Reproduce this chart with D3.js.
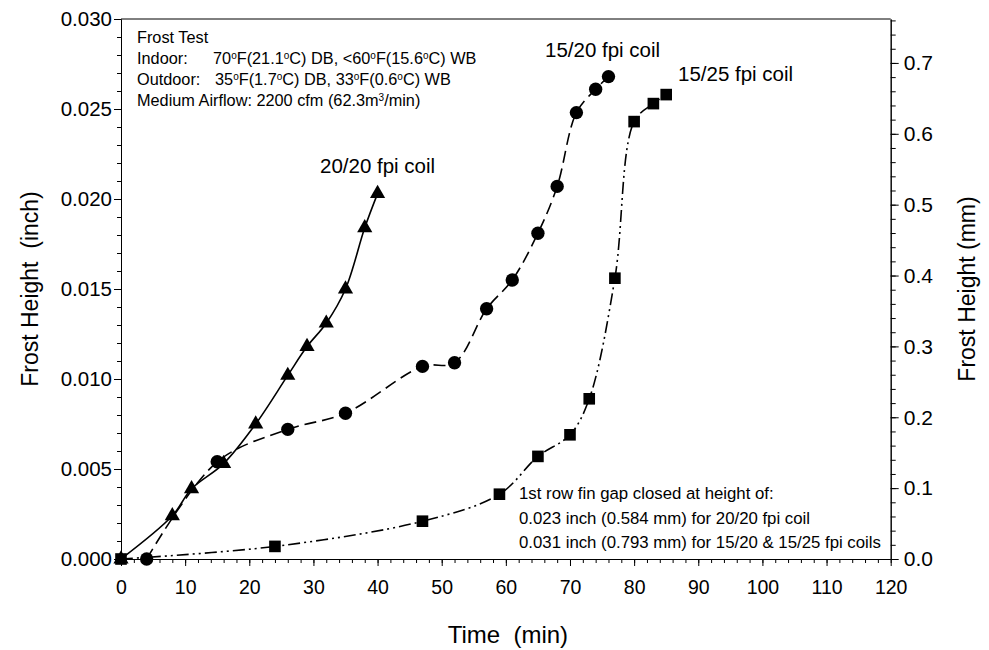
<!DOCTYPE html>
<html><head><meta charset="utf-8">
<script src="https://cdn.jsdelivr.net/npm/d3@7"></script>
<style>
html,body{margin:0;padding:0;background:#fff;}
svg{display:block;font-family:Arial,"Liberation Sans",sans-serif;}
</style></head>
<body><svg id="chart" width="989" height="650"></svg>
<script>
// ---- data ----
const time2020 = [0, 8, 11, 16, 21, 26, 29, 32, 35, 38, 40];
const frost2020 = [0, 0.0024, 0.0039, 0.0053, 0.0075, 0.0102, 0.0118, 0.0131, 0.0150, 0.0184, 0.0203];
const time1520 = [4, 15, 26, 35, 47, 52, 57, 61, 65, 68, 71, 74, 76];
const frost1520 = [0, 0.0054, 0.0072, 0.0081, 0.0107, 0.0109, 0.0139, 0.0155, 0.0181, 0.0207, 0.0248, 0.0261, 0.0268];
const time1525 = [0, 24, 47, 59, 65, 70, 73, 77, 80, 83, 85];
const frost1525 = [0, 0.0007, 0.0021, 0.0036, 0.0057, 0.0069, 0.0089, 0.0156, 0.0243, 0.0253, 0.0258];
const xTicks = [0, 10, 20, 30, 40, 50, 60, 70, 80, 90, 100, 110, 120];
const yTicks = [0, 0.005, 0.010, 0.015, 0.020, 0.025, 0.030];
const yRightTicks = [0, 0.1, 0.2, 0.3, 0.4, 0.5, 0.6, 0.7];
const seriesLabels = ["20/20 fpi coil", "15/20 fpi coil", "15/25 fpi coil"];

const svg = d3.select("#chart");
const L = 121, R = 890.7, T = 19, B = 559;
const x = d3.scaleLinear().domain([0, 120]).range([L, R]);
const y = d3.scaleLinear().domain([0, 0.030]).range([B, T]);
const yR = d3.scaleLinear().domain([0, 0.030 * 25.4]).range([B, T]);

// minor ticks
const xMinor = d3.range(0, 121, 2);
const yMinor = d3.range(0, 31, 1).map(d => d / 1000);
const yRMinor = d3.range(0, 39, 1).map(d => d * 0.02).filter(d => d <= 0.762);

function styleAxis(size) {
  return g => {
    g.selectAll("path,line").attr("stroke", "#000").attr("stroke-width", 1);
    g.selectAll("text").attr("fill", "#000").style("font-size", size + "px");
  };
}
svg.append("g").attr("transform", `translate(0,${B})`)
  .call(d3.axisBottom(x).tickValues(xMinor).tickSize(4).tickFormat("").tickSizeOuter(0)).call(styleAxis(19));
svg.append("g").attr("transform", `translate(0,${B})`)
  .call(d3.axisBottom(x).tickValues(xTicks).tickSize(7).tickPadding(14).tickFormat(d3.format("d")).tickSizeOuter(0)).call(styleAxis(19.5));
svg.append("g").attr("transform", `translate(${L},0)`)
  .call(d3.axisLeft(y).tickValues(yMinor).tickSize(4).tickFormat("").tickSizeOuter(0)).call(styleAxis(20));
svg.append("g").attr("transform", `translate(${L},0)`)
  .call(d3.axisLeft(y).tickValues(yTicks).tickSize(7).tickPadding(2).tickFormat(d3.format(".3f")).tickSizeOuter(0)).call(styleAxis(20.5));
svg.append("g").attr("transform", `translate(${R},0)`)
  .call(d3.axisRight(yR).tickValues(yRMinor).tickSize(5).tickFormat("").tickSizeOuter(0)).call(styleAxis(20));
svg.append("g").attr("transform", `translate(${R},0)`)
  .call(d3.axisRight(yR).tickValues(yRightTicks).tickSize(8).tickPadding(5).tickFormat(d3.format(".1f")).tickSizeOuter(0)).call(styleAxis(21));
// top frame
svg.append("line").attr("x1", L).attr("x2", R).attr("y1", T).attr("y2", T).attr("stroke", "#000");

// axis titles
svg.append("text").attr("transform", `translate(30,${(T + B) / 2}) rotate(-90)`)
  .attr("text-anchor", "middle").attr("dy", "0.35em").style("font-size", "23px").style("white-space", "pre")
  .text("Frost Height  (inch)");
svg.append("text").attr("transform", `translate(967,${(T + B) / 2}) rotate(-90)`)
  .attr("text-anchor", "middle").attr("dy", "0.35em").style("font-size", "23px")
  .text("Frost Height (mm)");
svg.append("text").attr("x", (L + R) / 2 + 2).attr("y", 643)
  .attr("text-anchor", "middle").style("font-size", "24px").style("white-space", "pre")
  .text("Time  (min)");

// lines
const line = d3.line().x(d => x(d[0])).y(d => y(d[1])).curve(d3.curveCatmullRom.alpha(0.5));
const s2020 = time2020.map((t, i) => [t, frost2020[i]]);
const s1520 = time1520.map((t, i) => [t, frost1520[i]]);
const s1525 = time1525.map((t, i) => [t, frost1525[i]]);
svg.append("path").datum(s2020).attr("d", line).attr("fill", "none").attr("stroke", "#000").attr("stroke-width", 1.6);
svg.append("path").datum(s1520).attr("d", line).attr("fill", "none").attr("stroke", "#000").attr("stroke-width", 1.6)
  .attr("stroke-dasharray", "12,6");
svg.append("path").datum(s1525).attr("d", line).attr("fill", "none").attr("stroke", "#000").attr("stroke-width", 1.6)
  .attr("stroke-dasharray", "12,4,2,4,2,4");

// markers
const tri = d3.symbol().type(d3.symbolTriangle).size(100);
const circ = d3.symbol().type(d3.symbolCircle).size(140);
const sq = d3.symbol().type(d3.symbolSquare).size(135);
svg.append("g").selectAll("path").data(s2020).join("path")
  .attr("d", tri).attr("transform", d => `translate(${x(d[0])},${y(d[1])})`).attr("fill", "#000");
svg.append("g").selectAll("path").data(s1520).join("path")
  .attr("d", circ).attr("transform", d => `translate(${x(d[0])},${y(d[1])})`).attr("fill", "#000");
svg.append("g").selectAll("path").data(s1525).join("path")
  .attr("d", sq).attr("transform", d => `translate(${x(d[0])},${y(d[1])})`).attr("fill", "#000");

// series labels
const labelFont = "20.5px";
svg.append("text").attr("x", 320).attr("y", 173).style("font-size", labelFont).text(seriesLabels[0]);
svg.append("text").attr("x", 545).attr("y", 57).style("font-size", labelFont).text(seriesLabels[1]);
svg.append("text").attr("x", 678).attr("y", 81).style("font-size", labelFont).text(seriesLabels[2]);

// condition annotation
const annFont = "16.3px";
function deg(sel, parts) {
  parts.forEach(p => {
    const ts = sel.append("tspan").text(p[0]);
    if (p[1]) ts.attr("baseline-shift", "super").style("font-size", "10px");
  });
}
svg.append("text").attr("x", 137).attr("y", 43).style("font-size", annFont).text("Frost Test");
svg.append("text").attr("x", 137).attr("y", 64).style("font-size", annFont).text("Indoor:");
deg(svg.append("text").attr("x", 213).attr("y", 64).style("font-size", annFont),
  [["70", 0], ["o", 1], ["F(21.1", 0], ["o", 1], ["C) DB, <60", 0], ["o", 1], ["F(15.6", 0], ["o", 1], ["C) WB", 0]]);
svg.append("text").attr("x", 137).attr("y", 85).style("font-size", annFont).text("Outdoor:");
deg(svg.append("text").attr("x", 215).attr("y", 85).style("font-size", annFont),
  [["35", 0], ["o", 1], ["F(1.7", 0], ["o", 1], ["C) DB, 33", 0], ["o", 1], ["F(0.6", 0], ["o", 1], ["C) WB", 0]]);
deg(svg.append("text").attr("x", 137).attr("y", 106).style("font-size", annFont),
  [["Medium Airflow: 2200 cfm (62.3m", 0], ["3", 1], ["/min)", 0]]);

// fin gap note
const noteFont = "16.8px";
svg.append("text").attr("x", 519).attr("y", 499).style("font-size", noteFont).text("1st row fin gap closed at height of:");
svg.append("text").attr("x", 519).attr("y", 524).style("font-size", noteFont).text("0.023 inch (0.584 mm) for 20/20 fpi coil");
svg.append("text").attr("x", 519).attr("y", 548).style("font-size", noteFont).text("0.031 inch (0.793 mm) for 15/20 & 15/25 fpi coils");
</script></body></html>
